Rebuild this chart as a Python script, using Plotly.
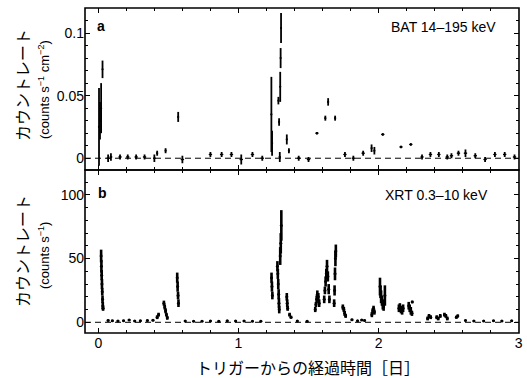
import plotly.graph_objects as go

# ---------------- data ----------------
# BAT 14-195 keV light curve (days since trigger, counts s^-1 cm^-2)
bat_t = [0.005, 0.012, 0.020, 0.030, 0.070, 0.090, 0.155, 0.210, 0.270, 0.330,
         0.400, 0.420, 0.480, 0.570, 0.600, 0.800, 0.880, 0.950, 1.020, 1.100,
         1.170, 1.235, 1.240, 1.285, 1.290, 1.295, 1.298, 1.301, 1.304, 1.345,
         1.360, 1.430, 1.500, 1.560, 1.620, 1.640, 1.690, 1.760, 1.820, 1.890,
         1.950, 1.970, 2.030, 2.160, 2.230, 2.310, 2.370, 2.430, 2.490, 2.520,
         2.570, 2.620, 2.690, 2.760, 2.830, 2.900, 2.970]
bat_rate = [0.025, 0.030, 0.040, 0.071, 0.000, 0.001, 0.001, 0.001, 0.001, 0.001,
            0.000, 0.004, 0.006, 0.033, -0.001, 0.003, 0.003, 0.003, -0.001, 0.003,
            0.000, 0.035, 0.012, 0.046, 0.029, 0.001, 0.057, 0.080, 0.104, 0.015,
            0.006, 0.000, -0.001, 0.020, 0.032, 0.045, 0.032, 0.003, 0.000, 0.004,
            0.008, 0.006, 0.019, 0.009, 0.011, 0.001, 0.003, 0.003, 0.001, 0.002,
            0.004, 0.004, 0.002, -0.001, 0.003, 0.003, 0.001]
bat_err = [0.031, 0.015, 0.020, 0.007, 0.003, 0.003, 0.002, 0.002, 0.002, 0.002,
           0.003, 0.002, 0.002, 0.004, 0.003, 0.002, 0.002, 0.002, 0.004, 0.002,
           0.002, 0.030, 0.010, 0.003, 0.003, 0.004, 0.012, 0.008, 0.012, 0.004,
           0.002, 0.002, 0.002, 0.001, 0.002, 0.003, 0.002, 0.002, 0.002, 0.002,
           0.003, 0.003, 0.001, 0.001, 0.001, 0.002, 0.002, 0.002, 0.002, 0.002,
           0.002, 0.003, 0.002, 0.002, 0.002, 0.002, 0.002]
bat_dt = [0.002, 0.002, 0.002, 0.002, 0.012, 0.010, 0.012, 0.012, 0.012, 0.012,
          0.010, 0.004, 0.004, 0.002, 0.012, 0.012, 0.012, 0.012, 0.012, 0.012,
          0.012, 0.002, 0.002, 0.002, 0.002, 0.008, 0.002, 0.002, 0.002, 0.002,
          0.004, 0.012, 0.012, 0.012, 0.004, 0.004, 0.004, 0.012, 0.012, 0.012,
          0.004, 0.004, 0.012, 0.012, 0.012, 0.012, 0.012, 0.012, 0.012, 0.012,
          0.012, 0.012, 0.012, 0.012, 0.012, 0.012, 0.012]

# XRT 0.3-10 keV light curve (days since trigger, counts s^-1)
xrt_t = [0.020, 0.022, 0.024, 0.026, 0.028, 0.030, 0.032, 0.034,
         0.070, 0.100, 0.140, 0.180, 0.220, 0.260, 0.300, 0.350, 0.390,
         0.420, 0.430,
         0.468, 0.474, 0.480, 0.486, 0.492,
         0.563, 0.566, 0.569, 0.572,
         0.620, 0.680, 0.740, 0.800, 0.860, 0.920, 0.980, 1.040, 1.100, 1.160,
         1.236, 1.239, 1.242,
         1.278, 1.281, 1.284, 1.287, 1.289, 1.291,
         1.298, 1.302, 1.306,
         1.345, 1.348, 1.351,
         1.365, 1.375, 1.420, 1.490,
         1.548, 1.553, 1.558, 1.563, 1.570, 1.576,
         1.612, 1.617, 1.622, 1.627, 1.632, 1.638, 1.644, 1.649,
         1.683, 1.686, 1.689, 1.692, 1.695,
         1.745, 1.752, 1.758, 1.765,
         1.810, 1.850, 1.880, 1.900,
         1.952, 1.958, 1.964, 1.970,
         2.010, 2.014, 2.018, 2.024, 2.030, 2.036, 2.045,
         2.145, 2.152, 2.160, 2.168, 2.175,
         2.215, 2.222, 2.230, 2.238, 2.240,
         2.350, 2.360, 2.372,
         2.415, 2.425, 2.440,
         2.470, 2.480, 2.490,
         2.555, 2.565,
         2.620, 2.680, 2.750, 2.820, 2.880, 2.950]
xrt_rate = [52, 44, 37, 30, 24, 18, 13, 11,
            1.5, 1.2, 1.0, 1.3, 1.8, 1.0, 1.2, 1.4, 1.6,
            4, 6,
            15, 12, 9, 6, 3.5,
            35, 28, 21, 15,
            1.0, 0.8, 0.9, 1.1, 0.9, 1.2, 1.0, 1.0, 0.8, 0.9,
            35, 28, 21,
            44, 38, 30, 22, 15, 10,
            52, 62, 76,
            20, 15, 11,
            6, 4, 1.0, 0.8,
            10, 14, 18, 22, 20, 15,
            18, 25, 32, 38, 44, 36, 26, 18,
            15, 25, 38, 50, 56,
            12, 10, 7, 5,
            2.0, 1.2, 1.8, 1.5,
            6, 9, 11, 8,
            28, 24, 20, 17, 14, 12, 21,
            11, 12, 10, 9, 11,
            13, 11, 9, 7, 16,
            3, 5, 4,
            4, 3, 5,
            6, 5, 3,
            4, 5,
            1.5, 1.0, 1.0, 1.3, 1.0, 1.2]
xrt_err = [5, 5, 4, 4, 3, 3, 3, 2,
           0.8, 0.8, 0.7, 0.7, 0.8, 0.7, 0.7, 0.7, 0.8,
           1.5, 1.5,
           2, 2, 2, 1.5, 1.5,
           4, 4, 3, 3,
           0.6, 0.6, 0.6, 0.6, 0.6, 0.6, 0.6, 0.6, 0.6, 0.6,
           4, 4, 3,
           4, 4, 4, 4, 4, 3,
           7, 8, 12,
           3, 3, 2,
           1.5, 1.2, 0.6, 0.6,
           2, 2, 3, 3, 3, 3,
           3, 3, 4, 4, 5, 4, 4, 3,
           3, 4, 5, 6, 5,
           2, 2, 2, 1.5,
           0.8, 0.6, 0.7, 0.7,
           2, 2, 2, 2,
           7, 5, 5, 4, 4, 3, 8,
           3, 3, 3, 3, 3,
           3, 3, 3, 2, 1,
           1.5, 1.5, 1.5,
           1.5, 1.5, 1.5,
           1.5, 1.5, 1.5,
           1.2, 1.2,
           0.6, 0.6, 0.6, 0.6, 0.6, 0.6]

x_ticks = [0, 1, 2, 3]
bat_ticks = [0, 0.05, 0.1]
bat_ticktext = ["0", "0.05", "0.1"]
xrt_ticks = [0, 50, 100]

# ---------------- figure ----------------
W, H = 527, 378
ML, MR, MT, MB = 85, 8, 8, 45
split = 163 / 325.0

fig = go.Figure()

fig.add_trace(go.Scatter(
    x=bat_t, y=bat_rate, mode="markers", xaxis="x2", yaxis="y2",
    marker=dict(color="black", size=2.2),
    error_y=dict(type="data", array=bat_err, color="black", thickness=1.8, width=0),
    error_x=dict(type="data", array=bat_dt, color="black", thickness=1.2, width=0),
    showlegend=False, hoverinfo="skip"))

fig.add_trace(go.Scatter(
    x=xrt_t, y=xrt_rate, mode="markers", xaxis="x", yaxis="y",
    marker=dict(color="black", size=3),
    error_y=dict(type="data", array=xrt_err, color="black", thickness=2.6, width=0),
    showlegend=False, hoverinfo="skip"))

tickfont = dict(family="Liberation Sans, Arial, sans-serif", size=14, color="black")
axis_common = dict(showline=False, mirror="ticks", automargin=False,
                   ticks="inside", ticklen=5, tickwidth=1.2, tickcolor="black",
                   showgrid=False, zeroline=False, tickfont=tickfont)

fig.update_layout(
    width=W, height=H,
    margin=dict(l=ML, r=MR, t=MT, b=MB),
    paper_bgcolor="white", plot_bgcolor="white",
    xaxis=dict(domain=[0, 1], anchor="y", range=[-0.095, 3.002], tickvals=x_ticks,
               minor=dict(dtick=0.2, ticks="inside", ticklen=3, tickcolor="black", tick0=0),
               **axis_common),
    xaxis2=dict(domain=[0, 1], anchor="y2", matches="x", range=[-0.095, 3.002],
                tickvals=x_ticks, showticklabels=False,
                minor=dict(dtick=0.2, ticks="inside", ticklen=3, tickcolor="black", tick0=0),
                **axis_common),
    yaxis=dict(domain=[0, split], anchor="x", range=[-8.4, 119.5], tickvals=xrt_ticks,
               minor=dict(dtick=10, ticks="inside", ticklen=3, tickcolor="black", tick0=0),
               **axis_common),
    yaxis2=dict(domain=[split, 1], anchor="x2", range=[-0.0094, 0.120], tickvals=bat_ticks,
                ticktext=bat_ticktext,
                minor=dict(dtick=0.01, ticks="inside", ticklen=3, tickcolor="black", tick0=0),
                **axis_common),
)

# panel frames
for y0, y1 in [(0, split), (split, 1)]:
    fig.add_shape(type="rect", xref="paper", yref="paper", x0=0, x1=1, y0=y0, y1=y1,
                  line=dict(color="black", width=1.6), fillcolor="rgba(0,0,0,0)", layer="above")

# dashed zero lines
for yr in ["y", "y2"]:
    fig.add_shape(type="line", xref="paper", x0=0, x1=1, yref=yr, y0=0, y1=0,
                  line=dict(color="black", width=1, dash="6px,4px"), layer="below")

def px_to_paper_x(px):
    return (px - ML) / (W - ML - MR)

def px_to_paper_y(py):
    return (H - MB - py) / (H - MT - MB)

jp = "Noto Sans CJK JP"
sans = "Liberation Sans, Arial, sans-serif"

def label(text, px, py, family, size, angle=0, xanchor="center"):
    fig.add_annotation(text=text, xref="paper", yref="paper",
                       x=px_to_paper_x(px), y=px_to_paper_y(py), textangle=angle,
                       xanchor=xanchor, yanchor="middle", showarrow=False,
                       font=dict(family=family, size=size, color="black"))

# y-axis titles
label("カウントレート", 22, 85, jp, 16, -90)
label("(counts s<sup>−1</sup> cm<sup>−2</sup>)", 44, 90, sans, 13, -90)
label("カウントレート", 22, 251, jp, 16, -90)
label("(counts s<sup>−1</sup>)", 44, 256, sans, 13, -90)

# x-axis title
label("トリガーからの経過時間［日］", 308, 367, jp, 16)

# panel letters and band labels
label("<b>a</b>", 101, 26, sans, 14)
label("<b>b</b>", 102, 193, sans, 14)
label("BAT 14–195 keV", 498, 27, sans, 14, xanchor="right")
label("XRT 0.3–10 keV", 490, 195, sans, 14, xanchor="right")

fig.write_html("out.html", config={"displayModeBar": False},
               post_script="document.body.style.margin='0';")
